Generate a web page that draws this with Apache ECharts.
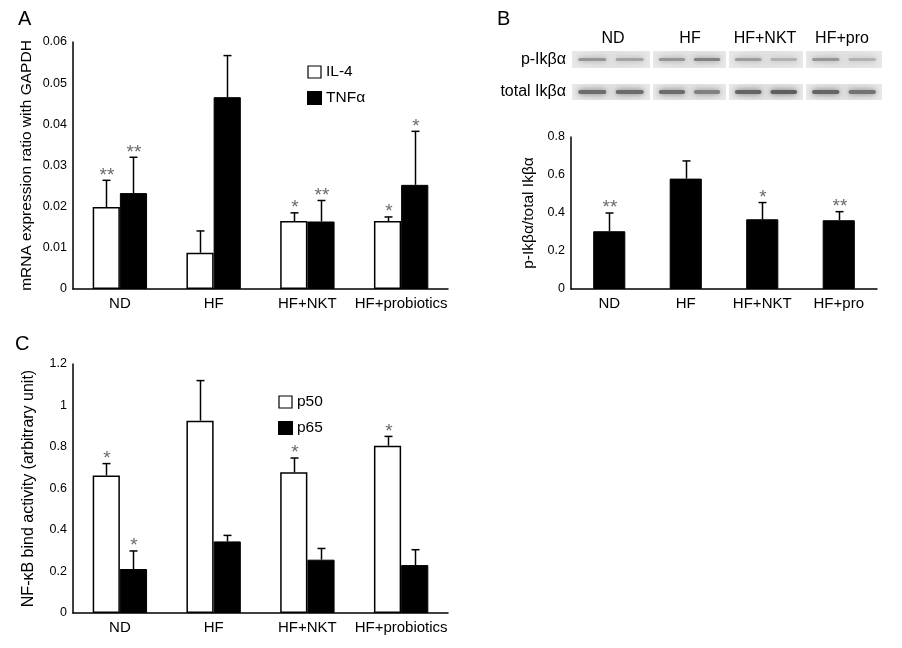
<!DOCTYPE html>
<html><head><meta charset="utf-8">
<script src="https://cdn.jsdelivr.net/npm/echarts@6/dist/echarts.min.js"></script>
<style>html,body{margin:0;padding:0;background:#fff}#c{width:902px;height:648px}</style>
</head><body><div id="c"></div>
<script>
// ---------- DATA ----------
const catsAC = ['ND', 'HF', 'HF+NKT', 'HF+probiotics'];
const catsB = ['ND', 'HF', 'HF+NKT', 'HF+pro'];
// Panel A
const il4 = [0.0199, 0.0088, 0.0165, 0.0165];
const il4Err = [0.0065, 0.0053, 0.0020, 0.0010];
const il4Sig = ['**', '', '*', '*'];
const tnf = [0.0233, 0.0466, 0.0164, 0.0253];
const tnfErr = [0.0087, 0.0101, 0.0051, 0.0130];
const tnfSig = ['**', '', '**', '*'];
// Panel B
const pIkb = [0.304, 0.581, 0.367, 0.362];
const pIkbErr = [0.096, 0.093, 0.088, 0.045];
const pIkbSig = ['**', '', '*', '**'];
const blotGroups = ['ND', 'HF', 'HF+NKT', 'HF+pro'];
const blotRows = ['p-Ik\u03b2\u03b1', 'total Ik\u03b2\u03b1'];
const pBand = [0.5, 0.4, 0.5, 0.65, 0.45, 0.3, 0.5, 0.3];
const totalBand = [0.8, 0.8, 0.8, 0.65, 0.85, 0.9, 0.85, 0.75];
// Panel C
const p50 = [0.663, 0.927, 0.678, 0.806];
const p50Err = [0.057, 0.193, 0.069, 0.045];
const p50Sig = ['*', '', '*', '*'];
const p65 = [0.212, 0.345, 0.257, 0.231];
const p65Err = [0.087, 0.029, 0.054, 0.074];
const p65Sig = ['*', '', '', ''];
// Axis ticks
const ticksA = [0, 0.01, 0.02, 0.03, 0.04, 0.05, 0.06];
const ticksB = [0, 0.2, 0.4, 0.6, 0.8];
const ticksC = [0, 0.2, 0.4, 0.6, 0.8, 1, 1.2];

// ---------- CHART ----------
const FONT = 'Liberation Sans, Arial, sans-serif';
const chart = echarts.init(document.getElementById('c'), null, {renderer: 'canvas'});

function errSeries(name, gi, vals, errs, sigs, off) {
  return {
    type: 'custom', name: name + '_err', xAxisIndex: gi, yAxisIndex: gi, z: 5,
    silent: true,
    data: vals.map((v, i) => [i, v, v + errs[i]]),
    renderItem: function (params, api) {
      const c = api.value(0);
      const base = api.coord([c, api.value(1)]);
      const top = api.coord([c, api.value(2)]);
      const band = api.size([1, 0])[0];
      const x = Math.round(base[0] + off * band) + 0.5;
      const sig = sigs[c];
      const ch = [
        {type: 'line', shape: {x1: x, y1: base[1], x2: x, y2: top[1]}, style: {stroke: '#000', lineWidth: 1.5}},
        {type: 'line', shape: {x1: x - 4, y1: top[1], x2: x + 4, y2: top[1]}, style: {stroke: '#000', lineWidth: 1.5}}
      ];
      if (sig) ch.push({type: 'text', style: {text: sig, x: x + 0.5, y: top[1] - 5, align: 'center', verticalAlign: 'middle',
        fill: '#6a6a6a', font: '19px ' + FONT}});
      return {type: 'group', children: ch};
    }
  };
}
function barSeries(name, gi, vals, white, gap) {
  return {
    type: 'bar', name: name, xAxisIndex: gi, yAxisIndex: gi, data: vals,
    barGap: '0%', barCategoryGap: gap,
    itemStyle: white ? {color: '#fff', borderColor: '#000', borderWidth: 1.5} : {color: '#000', borderColor: '#000', borderWidth: 1}
  };
}
function xAx(gi, cats) {
  return {type: 'category', gridIndex: gi, data: cats, boundaryGap: true,
    axisLine: {lineStyle: {color: '#000', width: 1.5}}, axisTick: {show: false},
    axisLabel: {color: '#000', fontSize: 15, fontFamily: FONT, margin: 7, interval: 0}};
}
function yAx(gi, ticks, name, gap, nsize) {
  const iv = ticks[1] - ticks[0];
  return {type: 'value', gridIndex: gi, min: ticks[0], max: ticks[ticks.length - 1], interval: iv,
    name: name, nameLocation: 'middle', nameGap: gap, nameRotate: 90,
    nameTextStyle: {color: '#000', fontSize: nsize, fontFamily: FONT},
    axisLine: {show: true, lineStyle: {color: '#000', width: 1.5}}, axisTick: {show: false}, splitLine: {show: false},
    axisLabel: {color: '#000', fontSize: 12.5, fontFamily: FONT, margin: 6,
      formatter: v => String(+v.toFixed(3))}};
}

// blot graphic
const graphics = [];
const stripX = [[572, 650], [653, 726], [729, 803], [806, 882]];
const rowY = [[51, 68], [84, 100]];
const groupLabelX = [613, 690, 765, 842];
const labelFont = '16px ' + FONT;
blotGroups.forEach((g, i) => {
  graphics.push({type: 'text', style: {text: g, x: groupLabelX[i], y: 39, font: labelFont, fill: '#000', align: 'center', verticalAlign: 'middle'}});
});
blotRows.forEach((r, j) => {
  graphics.push({type: 'text', style: {text: r, x: 566, y: (rowY[j][0] + rowY[j][1]) / 2, align: 'right', verticalAlign: 'middle', font: labelFont, fill: '#000'}});
  stripX.forEach((s, i) => {
    graphics.push({type: 'rect', shape: {x: s[0], y: rowY[j][0], width: s[1] - s[0], height: rowY[j][1] - rowY[j][0]},
      style: {fill: new echarts.graphic.LinearGradient(0, 0, 1, 0, [{offset: 0, color: '#e9e9e9'}, {offset: 0.5, color: '#e2e2e2'}, {offset: 1, color: '#e8e8e8'}])}});
    const vals = j === 0 ? pBand : totalBand;
    for (let k = 0; k < 2; k++) {
      const inten = vals[i * 2 + k];
      const w = s[1] - s[0];
      const bx = s[0] + (k === 0 ? 0.08 : 0.56) * w;
      const bw = 0.36 * w;
      const cy = (rowY[j][0] + rowY[j][1]) / 2;
      const h = j === 0 ? 3 : 4;
      const g = Math.round(220 - inten * 140);
      const col = 'rgb(' + g + ',' + g + ',' + g + ')';
      graphics.push({type: 'rect', shape: {x: bx, y: cy - h / 2, width: bw, height: h, r: 2},
        style: {fill: col, shadowBlur: 6, shadowColor: col}});
    }
  });
});
// panel letters
[['A', 18, 9], ['B', 497, 9], ['C', 15, 334]].forEach(p => {
  graphics.push({type: 'text', style: {text: p[0], x: p[1], y: p[2], font: '20px ' + FONT, fill: '#000'}});
});

const option = {
  animation: false,
  textStyle: {fontFamily: FONT},
  grid: [
    {left: 73, top: 42, width: 375, height: 247},
    {left: 571, top: 137, width: 306, height: 152},
    {left: 73, top: 364, width: 375, height: 249}
  ],
  xAxis: [xAx(0, catsAC), xAx(1, catsB), xAx(2, catsAC)],
  yAxis: [
    yAx(0, ticksA, 'mRNA expression ratio with GAPDH', 38, 15.5),
    yAx(1, ticksB, 'p-Ik\u03b2\u03b1/total Ik\u03b2\u03b1', 34, 15.5),
    yAx(2, ticksC, 'NF-\u03baB bind activity (arbitrary unit)', 36, 16)
  ],
  legend: [
    {orient: 'vertical', left: 307, top: 64, padding: 0, itemWidth: 13, itemHeight: 12, itemGap: 10,
      textStyle: {fontSize: 15.5, color: '#000', fontFamily: FONT},
      data: [{name: 'IL-4', icon: 'rect', itemStyle: {color: '#fff', borderColor: '#000', borderWidth: 1.2}},
             {name: 'TNF\u03b1', icon: 'rect', itemStyle: {color: '#000'}}]},
    {orient: 'vertical', left: 278, top: 394, padding: 0, itemWidth: 13, itemHeight: 12, itemGap: 10,
      textStyle: {fontSize: 15.5, color: '#000', fontFamily: FONT},
      data: [{name: 'p50', icon: 'rect', itemStyle: {color: '#fff', borderColor: '#000', borderWidth: 1.2}},
             {name: 'p65', icon: 'rect', itemStyle: {color: '#000'}}]}
  ],
  series: [
    barSeries('IL-4', 0, il4, true, '42%'),
    barSeries('TNF\u03b1', 0, tnf, false, '42%'),
    errSeries('IL-4', 0, il4, il4Err, il4Sig, -0.145),
    errSeries('TNF\u03b1', 0, tnf, tnfErr, tnfSig, 0.145),
    barSeries('pIkb', 1, pIkb, false, '58%'),
    errSeries('pIkb', 1, pIkb, pIkbErr, pIkbSig, 0),
    barSeries('p50', 2, p50, true, '42%'),
    barSeries('p65', 2, p65, false, '42%'),
    errSeries('p50', 2, p50, p50Err, p50Sig, -0.145),
    errSeries('p65', 2, p65, p65Err, p65Sig, 0.145)
  ],
  graphic: graphics
};
chart.setOption(option);
</script></body></html>
